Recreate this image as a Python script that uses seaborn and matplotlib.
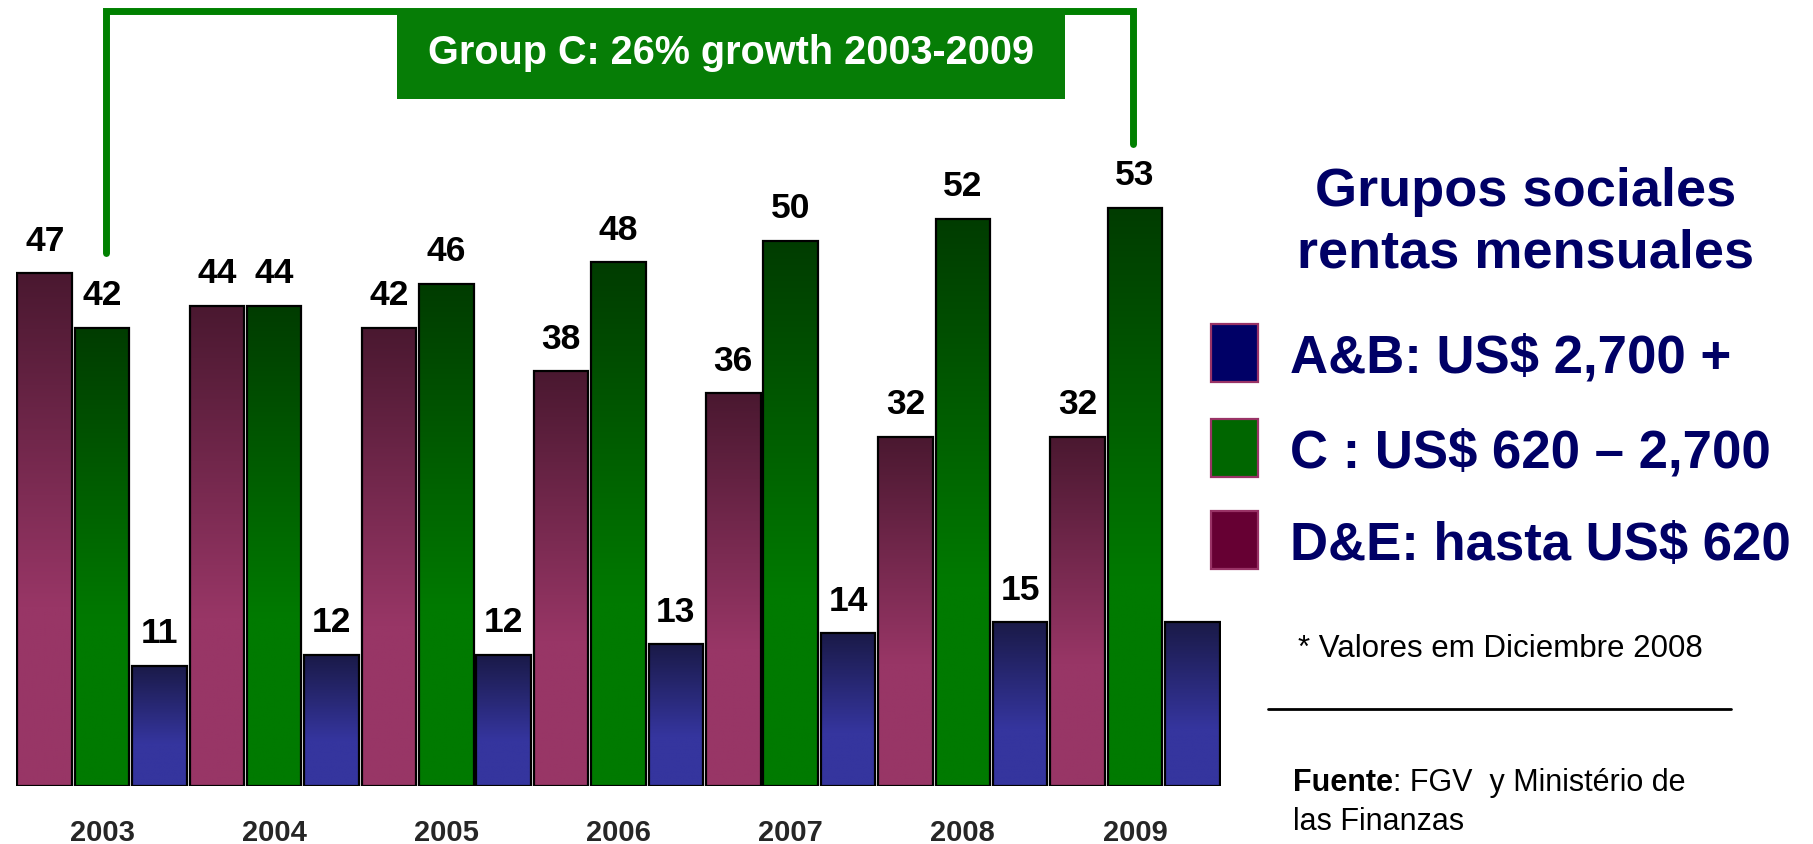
import numpy as np
import pandas as pd
import seaborn as sns
import matplotlib.pyplot as plt
from matplotlib.patches import Rectangle
from matplotlib.lines import Line2D
from matplotlib.colors import LinearSegmentedColormap

# Data
years = ['2003', '2004', '2005', '2006', '2007', '2008', '2009']
groups = ['D&E', 'C', 'A&B']
de_values = [47, 44, 42, 38, 36, 32, 32]
c_values = [42, 44, 46, 48, 50, 52, 53]
ab_values = [11, 12, 12, 13, 14, 15, 15]
ab_labels = ['11', '12', '12', '13', '14', '15', '']  # last label not shown in the original

legend_labels = ['A&B: US$ 2,700 +', 'C : US$ 620 \u2013 2,700', 'D&E: hasta US$ 620']
legend_colors = ['#000066', '#006600', '#660033']

# top / bottom colours of the bar gradients
grad = {'D&E': ('#4a1830', '#983666'),
        'C': ('#003c00', '#007a00'),
        'A&B': ('#1a1a48', '#35359e')}

W, H = 1813, 845
sns.set_style('white')
plt.rcParams['font.family'] = ['Liberation Sans', 'DejaVu Sans']

fig = plt.figure(figsize=(W / 100, H / 100), dpi=100)


def fx(x):
    return x / W


def fy(y):
    return 1 - y / H


# chart area: bars from x=16px to 1221px, baseline at y=787px
ax = fig.add_axes([fx(16), fy(787), (1221 - 16) / W, 787 / H])

df = pd.DataFrame({
    'year': years * 3,
    'group': np.repeat(groups, len(years)),
    'value': de_values + c_values + ab_values,
})

sns.barplot(data=df, x='year', y='value', hue='group', order=years, hue_order=groups,
            palette=[grad[g][1] for g in groups], width=1.0, gap=0.05,
            edgecolor='black', linewidth=1.6, legend=False, ax=ax)

# vertical gradient inside each bar
t = np.clip(np.linspace(0, 1, 256) / 0.65, 0, 1)[:, None]
for grp, cont in zip(groups, ax.containers):
    cmap = LinearSegmentedColormap.from_list(grp, list(grad[grp]))
    for bar in cont:
        x0, w, h = bar.get_x(), bar.get_width(), bar.get_height()
        img = ax.imshow(t, cmap=cmap, vmin=0, vmax=1, extent=[x0, x0 + w, 0, h],
                        origin='upper', aspect='auto', zorder=1)
        img.set_clip_path(bar)
        bar.set_facecolor('none')
        bar.set_zorder(2)

ax.set_xlim(-0.5, 6.5)
ax.set_ylim(0, 787 / 10.91)

# value labels
label_sets = [[str(v) for v in de_values], [str(v) for v in c_values], ab_labels]
for cont, labs in zip(ax.containers, label_sets):
    ax.bar_label(cont, labels=labs, padding=12, fontsize=25.5, fontweight='bold', color='black')

ax.set_xticks(range(len(years)))
ax.set_xticklabels(years, fontsize=21, fontweight='bold')
ax.tick_params(axis='x', length=0, pad=23)
ax.set_yticks([])
ax.set_xlabel('')
ax.set_ylabel('')
sns.despine(ax=ax, left=True, bottom=True)

# green bracket over group C, 2003 -> 2009
ax.plot([0.02, 0.02, 5.99, 5.99], [48.9, 71.0, 71.0, 58.8], color='#008000', lw=5,
        solid_joinstyle='miter', clip_on=False, zorder=3)
fig.add_artist(Rectangle((fx(397), fy(100)), (1065 - 397) / W, 90 / H,
                         transform=fig.transFigure, facecolor='#067d06', edgecolor='none'))
fig.text(fx(731), fy(64), 'Group C: 26% growth 2003-2009', color='white', fontsize=28.5,
         fontweight='bold', ha='center', va='baseline')

# right panel
fig.text(fx(1526), fy(206), 'Grupos sociales', ha='center', va='baseline', fontsize=39,
         fontweight='bold', color='#000066')
fig.text(fx(1526), fy(268), 'rentas mensuales', ha='center', va='baseline', fontsize=39,
         fontweight='bold', color='#000066')

for i, (lab, col) in enumerate(zip(legend_labels, legend_colors)):
    cy = [354, 449, 541][i]
    fig.add_artist(Rectangle((fx(1211), fy(cy + 29)), 47 / W, 58 / H, transform=fig.transFigure,
                             facecolor=col, edgecolor='#993366', lw=1.6))
    fig.text(fx(1290), fy(cy + 19), lab, ha='left', va='baseline', fontsize=38,
             fontweight='bold', color='#000066')

fig.text(fx(1298), fy(657), '* Valores em Diciembre 2008', ha='left', va='baseline',
         fontsize=22.5, color='black')
fig.add_artist(Line2D([fx(1268), fx(1731)], [fy(710), fy(710)], transform=fig.transFigure,
                      color='black', lw=2))
fuente = fig.text(fx(1293), fy(791), 'Fuente', ha='left', va='baseline', fontsize=22,
                  fontweight='bold', color='black')
fig.text(fx(1293), fy(830), 'las Finanzas', ha='left', va='baseline', fontsize=22, color='black')
plt.annotate(': FGV  y Minist\u00e9rio de', xy=(1, 0), xycoords=fuente, ha='left', va='bottom',
             fontsize=22, color='black', annotation_clip=False)

fig.savefig('out.png', dpi=100)
